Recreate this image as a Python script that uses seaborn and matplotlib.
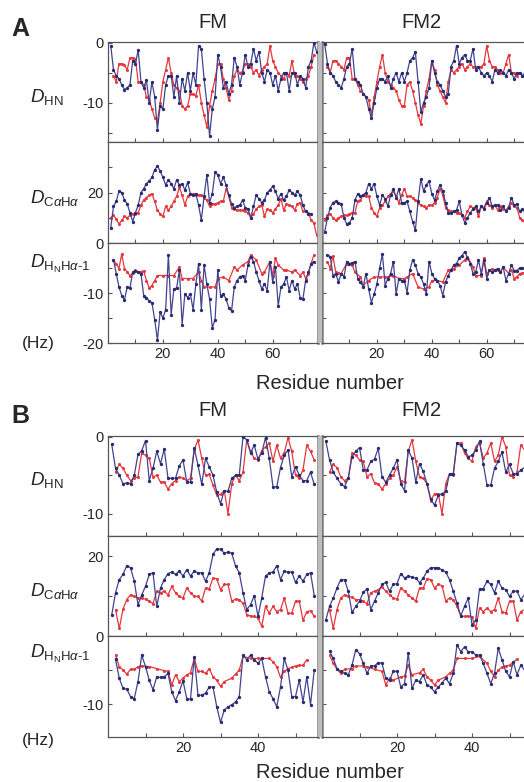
import numpy as np
import pandas as pd
import matplotlib
matplotlib.use("Agg")
import matplotlib.pyplot as plt
from matplotlib.patches import Rectangle
import seaborn as sns

nan = np.nan

# ---------------- Panel A (residues 1-76) ----------------
res_a = list(range(1, 77))

a_hn_fm_blue = [-0.5, -4.5, -5.5, -6, -7, -7.8, -7.5, -7, -3, -3.5,
                -1.2, -6.5, -7.5, -6.2, -10, -6.5, -9, -14.5, -10.5, -11,
                -7, -5.5, -5.5, -9, -5.5, -10, -6, -8, -5, -8,
                -5, -7, -0.5, -1, -6, -10, -15.5, -11, -9, -2,
                -4, -7.5, -6.5, -8.5, -7, -2.5, -4, -7, -5, -2,
                -4, -3.5, -1, -3, -1.5, -5, -6.5, -4.5, -5, -7,
                -5.5, -8, -6, -5, -5, -8, -5, -5, -7, -5.5,
                -6, -7.5, -4, -3, 0, -1.5]
a_hn_fm_red = [nan, -5.5, -6.5, -3.5, -3.5, -3.7, -4.5, -2.5, -2.5, -2.8,
               -6.5, -6.5, -7, -9, -9.5, -11, -12.5, -13, -10, -6.5,
               -4.5, -2.5, -5, -7, -7.5, -8, -10.5, -11, -10.5, -8.5,
               -8.5, -8.8, -7, -10, -12, -14, -10.5, -8, -6, -3.5,
               -3.5, -6, -7.5, -9.5, -8, -5.5, -4.5, -5, -4.8, -3.5,
               -3.5, -4, -5, -4.5, -5.5, -4.5, -4, -3.5, -0.5, -3,
               -4, -5, -5.5, -6, -5, -5.5, -3, -5.5, -5.5, -6,
               -6.5, -6, -5.5, -4, -2, nan]
a_hn_fm2_blue = [-0.3, -3.5, -5, -5.5, -6.5, -7, -7.5, -6, -4, -3.5,
                 -1, -6, -6.5, -7, -8.5, -9, -11, -12.5, -10, -7.5,
                 -6, -6, -6.5, -5.5, -7.5, -6, -5, -6.5, -5, -6.5,
                 -5, -3, -2.5, -1.5, -6.5, -11.5, -10, -9, -7.5, -3,
                 -5, -6.5, -7, -8, -9, -8.5, -4, -3, -0.5, -3.5,
                 -2.5, -2, -3, -3, -1, -4.5, -4, -5, -5.5, -5,
                 -5.5, -6.5, -4.5, -5, -4.5, -5, -5.5, -4.5, -5, -6,
                 -5, -5, -5.5, -5, -5, -5]
a_hn_fm2_red = [nan, -4, -5, -3, -3, -3.5, -4, -4.5, -2.5, -2.5,
                -6, -6, -7, -8, -8.5, -9, -9.5, -12, -9, -6.5,
                -4, -2, -5, -6.5, -7, -7.5, -8, -9.5, -10.5, -10.5,
                -7, -6.5, -8, -10, -12, -13.5, -10.5, -8, -6, -3,
                -4.5, -7, -8, -9, -10, -6.5, -4.5, -5, -4.5, -4,
                -3.5, -4.5, -4, -3.5, -4, -4, -4, -4, -3.5, -0.5,
                -3, -4, -4, -4.5, -5, -5, -3.5, -2, -5, -5,
                -5.5, -5, -5.5, -6, -5.5, nan]

a_ca_fm_blue = [6, 14.5, 16.5, 20.5, 20, 17, 15.5, 12, 8.5, 12,
                15, 20, 21.5, 23.5, 24.5, 26, 29, 30.5, 28.5, 26,
                23, 25, 23.5, 21.5, 25, 23, 23.5, 21, 24, 19.5,
                19, 19.5, 15, 9, 18.5, 27, 16, 19.5, 28, 27,
                23.5, 26, 23, 19, 15.5, 14, 14.5, 15, 17, 14,
                13.5, 10, 14.5, 19, 17.5, 16, 17, 20, 21, 22.5,
                20.5, 17.5, 19.5, 17, 18.5, 21, 20, 19, 20.5, 19,
                15, 12.5, 11.5, 11.5, nan, nan]
a_ca_fm_red = [10, 11, 9.5, 7.5, 9, 10.5, 10, 11, 11.5, 11.5,
               12, 15, 17, 18, 19, 19.5, 16.5, 13, 11.5, 10.5,
               14.5, 13, 14.5, 16.5, 18.5, 22, 19, 15, 18.5, 19.5,
               19.5, 19, 19, 19, 18, 17, 14.5, 15.5, 15.5, 16,
               16.5, 16.5, 21.5, 18.5, 14, 13.5, 13, 13, 13, 12.5,
               12, 10, 11.5, 13.5, 14.5, 15, 10.5, 13.5, 13, 12,
               13.5, 15, 17.5, 13, 15.5, 15, 14.5, 13, 15.5, 16,
               12.5, 12.5, 12, 9, 8, 3]
a_ca_fm2_blue = [4.5, 10, 14, 16, 16.5, 16, 15.5, 10, 7.5, 8,
                 10, 17, 19.5, 18.5, 19, 20, 23.5, 21.5, 23.5, 18.5,
                 15, 19, 17.5, 14.5, 19, 21.5, 18, 21.5, 16, 16,
                 16.5, 12.5, 8.5, 5, 16.5, 25.5, 20.5, 23, 24.5, 19.5,
                 17, 20.5, 23, 20.5, 16, 12, 12, 12.5, 13, 16.5,
                 11, 8, 10, 12, 13.5, 14.5, 12.5, 14.5, 13.5, 16,
                 18, 14.5, 15, 15, 13, 14.5, 12.5, 14, 18, 15,
                 15.5, 12.5, 13.5, 12, nan, nan]
a_ca_fm2_red = [9, 11, 11.5, 10, 9, 10, 10.5, 11, 11, 11.5,
                12, 12, 16.5, 17, 19, 18.5, 18.5, 14, 12, 10.5,
                14, 15, 16.5, 18.5, 19.5, 20.5, 18.5, 16, 19, 21.5,
                18.5, 18.5, 18, 17, 16, 15, 14.5, 14, 15, 15,
                16, 18, 21.5, 19, 14, 13, 12.5, 12.5, 12, 12,
                11, 10, 12.5, 14.5, 14, 14, 10.5, 14.5, 14, 16.5,
                15, 14, 15, 13, 14.5, 13.5, 13, 14.5, 16, 14.5,
                14, 10, 9, 8, nan, nan]

a_hh_fm_blue = [nan, -3.4, -6.1, -8.8, -10.5, -11.4, -8.8, -9, -5.8, -5.6,
                -5.8, -6.1, -10.5, -10.9, -11.6, -11.9, -15.3, -19.4, -13.8, -15,
                -13.3, -2.4, -14.3, -9.2, -9, -5.4, -16.3, -10.2, -10.9, -10.2,
                -13.3, -8.2, -4.1, -13.3, -4.4, -8.2, -11.2, -17, -15.3, -5.4,
                -10.5, -10.2, -11.2, -12.9, -13.6, -8.8, -7.5, -6.8, -6.5, -7.5,
                -4.4, -2.7, -3.7, -5.8, -7.5, -9.2, -8.2, -9.5, -3.7, -7.8,
                -4.8, -12.6, -8.8, -8.2, -6.8, -9.5, -7.5, -9.2, -8.2, -10.9,
                -11.2, -7.5, -5.8, -4.1, -3.7, nan]
a_hh_fm_red = [nan, -3.4, -4.2, -5.1, -2.2, -5.1, -5.8, -6.5, -6, -5.4,
               -5.8, -5.7, -5.6, -7.5, -9, -8.5, -7.5, -6.5, nan, -6.5,
               nan, -6.5, nan, -6.5, nan, -4.8, -7.1, nan, -7.1, nan,
               -7.1, nan, -5.8, -7.5, -8.8, nan, -8.8, nan, -8.8, -7.1,
               nan, -6.8, nan, -7.5, nan, -4.8, -5.4, nan, -4.4, nan,
               -3.7, -2.4, nan, -3.4, nan, -6.1, -5.8, nan, -3.7, -6.5,
               -3, -4.4, nan, -5.4, -5.4, nan, -5.8, -5.4, nan, -6.5,
               -5.8, -7.1, -6.1, -4.1, -2.4, nan]
a_hh_fm2_blue = [nan, -2.4, -2.7, -6.5, -6.1, -7.8, -6.1, -6.8, -3.7, -4.1,
                 -4, -3.7, -7.1, -7.8, -8.8, -6.1, -9.2, -11.9, -10.2, -8.2,
                 -5, -2.2, -8.5, -7.1, -6.1, -3.7, -10.2, -7.1, -7.5, -7.5,
                 -9.9, -5.4, -3.4, -4.4, -6.1, -6.8, -8.2, -10.2, -3.7, -6.1,
                 -7.1, -7.5, -8.5, -10.5, -7.8, -6.5, -5.4, -4.4, -4.1, -3,
                 -2.5, -1.7, -3, -4.1, -6.1, -5.8, -3.4, -6.1, -3.4, -7.1,
                 -5.4, -5.8, -5.4, -5.1, -5.8, -4.8, -7.5, -6.1, -4.4, -5.5,
                 -5.5, -5, -5, -5, -5, nan]
a_hh_fm2_red = [nan, -3.7, -5.1, -2.6, -5.8, -6, -6.1, nan, -4.1, nan,
                -4.4, -5.8, nan, -6.8, -8.5, nan, -7.5, nan, -6.8, nan,
                -6.8, nan, -6.8, -6.8, nan, -6.5, nan, -7.1, nan, -7.1,
                -6.8, nan, -6.1, nan, -8.8, nan, -9.2, nan, -8.8, -7.5,
                nan, -7.5, nan, -7.8, nan, -5.4, nan, -5.1, nan, -4.4,
                nan, -3.4, -2.7, nan, -4.8, -6.5, nan, -6.5, -3, -6.1,
                nan, -5.1, -5.4, nan, -5.8, -4.8, nan, -6.1, -5.4, -7.1,
                -6.8, -6.1, -6, -6, nan, nan]

# ---------------- Panel B (residues 1-55) ----------------
res_b = list(range(1, 56))

b_hn_fm_blue = [-1, -4.1, -5, -6.1, -6, -6.1, -5, -2.3, -1.8, -0.5,
                -5.7, -4.1, -1.9, -3.5, -1.6, -5.4, -5.4, -5.4, -3.8, -3,
                -5.9, -5.9, -1.5, -3.7, -6.2, -2.8, -3.9, -5, -7.2, -8.7,
                -7, -7.1, -5.4, -5, -5, 0, -0.4, -2.1, -1.1, -2.9,
                -2.1, -0.1, -2.8, -6.5, -6.5, -4, -2.4, -1.7, -5.2, -3.9,
                -5, -5.7, -5.7, -4.6, -6.2]
b_hn_fm_red = [nan, -4.6, -3.6, -4.1, -5, -5.7, -5.4, -5.2, -2.1, -2.4,
               -2.8, -5.2, -5, -5.9, -5.9, -6.8, -6.1, -5.7, -5.2, -5.4,
               -5.7, -5.4, -1.7, -0.4, -2.8, -5, -4.9, -6.3, -7.6, -7.5,
               -7, -10, -6.1, -5, -5.7, -4.6, -0.4, -1.9, -2.8, -3,
               -1.8, -1.3, -0.8, -3.2, -1.1, -2.8, -2.1, -0.1, -1.9, -5,
               -5.4, -4.3, -1.1, -1.9, -3]
b_hn_fm2_blue = [-0.5, -3, -4.6, -5.4, -6.1, -6.5, -5.4, -2.6, -1.9, -1.4,
                 -4.3, -4.3, -3.2, -2.9, -1.5, -5.2, -5.9, -5, -4.1, -3,
                 -6.1, -7, -1.7, -2.8, -5.9, -3.5, -4.5, -6.1, -8.1, -8.9,
                 -7.6, -7.4, -7.1, -4.8, -4.8, -0.8, -1.1, -1.7, -2.6, -2.4,
                 -1.7, -0.6, -3.5, -6.3, -6.3, -4.1, -3.2, -2, -4.6, -3.6,
                 -4.8, -4.8, -4.3, -4, -4]
b_hn_fm2_red = [nan, -4.6, -3.6, -4, -5.2, -5.7, -5.4, -2.1, -2.4, -3,
                -3.2, -5.2, -4.8, -6, -6.1, -6.8, -6.1, -5.4, -5, -3.9,
                -5.7, -5.9, -1.9, -0.4, -3.2, -5.2, -5.4, -6.1, -8.3, -7.4,
                -7.4, -10, -6.1, -4.8, -5, -0.8, -0.8, -2.1, -2.8, -3.2,
                -1.3, -0.8, -2.8, -2.1, -0.8, -3.2, -2.4, 0, -1.3, -5,
                -5.2, -4.6, -1.1, -1.7, -2]

b_ca_fm_blue = [5.3, 10.8, 14.1, 15.4, 17.6, 17.1, 13.7, 7.8, 10.3, 12.4,
                15.4, 15.8, 7.4, 12, 14.1, 15.6, 16, 15.4, 16.2, 15,
                16.6, 15, 16.2, 15.8, 15.8, 13.7, 15.8, 20.4, 21.8, 21.7,
                20.7, 21, 20.7, 17.5, 15.8, 10.8, 6.6, 7.8, 10.1, 4.9,
                9.5, 15, 15.8, 16, 17.6, 14.1, 16.2, 16, 16, 13.4,
                15, 13.7, 15.4, 15.8, 10.1]
b_ca_fm_red = [nan, 6.6, 1.9, 6.7, 9.1, 10.3, 9.9, 9.5, 9.5, 9.2,
               8.7, 8.1, 11.2, 10.8, 11.2, 10.3, 12.4, 10.8, 9.9, 9.5,
               12, 10.8, 9.9, 9.9, 8.7, 12, 11.8, 14.5, 14.3, 11.6,
               12.9, 12.9, 8.7, 9.2, 9.1, 8.2, 5.3, 5, 4.9, 4.5,
               2.4, 7.4, 5.7, 7.4, 6.1, 6.6, 9.5, 5.7, 5.7, 8.7,
               8.7, 3.9, 6.1, 6.3, 4.9]
b_ca_fm2_blue = [3.9, 7.4, 9.5, 12, 14.1, 14.1, 11.2, 5.9, 7.4, 8.7,
                 10.9, 11.8, 6.6, 8.7, 10.8, 12.9, 13.4, 11.2, 12.9, 13.1,
                 15.6, 14.5, 15, 14.7, 14.5, 13.3, 14.5, 16.2, 17.1, 17.1,
                 17.1, 16.5, 16, 14.1, 11.2, 8.2, 5, 7.4, 9.5, 2.8,
                 4, 11.8, 11.8, 13.7, 12.9, 10.8, 13.7, 12, 11.6, 9.9,
                 11.2, 11.2, 9.1, 10.3, 10.3]
b_ca_fm2_red = [nan, 6.6, 1.9, 6.6, 9.5, 10.3, 9.9, 9.7, 9.1, 9.1,
                8.7, 8.1, 10.8, 11.2, 11.6, 12.3, 11.2, 10.3, 9.5, 9.2,
                12, 11.2, 10.3, 9.5, 8.7, 12, 12, 14.3, 14.1, 12,
                12.9, 12.6, 8.7, 9.5, 9.1, 7.4, 5, 4.9, 5, 4.7,
                1.9, 7, 6.1, 7, 6.1, 6.6, 9.5, 6.1, 5.7, 8.7,
                8.7, 4, 6.1, 6.6, 6.6]

b_hh_fm_blue = [nan, -3.4, -6.2, -7.7, -7.8, -8.9, -9.2, -6.7, -2.8, -4.5,
                -6.5, -7.9, -6, -6.1, -6, -5.5, -8.2, -9.5, -8.2, -6.6,
                -9.2, -9.3, -3.1, -8.7, -8.7, -8.4, -7.5, -7.5, -10.4, -12.7,
                -10.9, -10.4, -10.1, -9.7, -8.9, -2.8, -3.5, -2.8, -3.5, -4,
                -3.3, -6, -8.2, -9.2, -10.4, -7.5, -3.3, -5, -8.9, -8.9,
                -6.5, -9.7, -6, -10.1, -5]
b_hh_fm_red = [nan, -2.8, -4.5, -5, -5.6, -4.9, -4.9, -4.5, -4.4, nan,
               -4.5, nan, -4.8, nan, -5.1, -5.2, -7.2, -5.7, -6.7, -6.2,
               -5.7, -5.4, -3.3, -5.2, -5.2, -5.5, -4.8, -6, -6.5, -7.4,
               -6.7, nan, -6.2, -5.6, -5, -3, nan, -3.3, nan, -3.3,
               -3.3, nan, -3.3, -3.8, -4.5, -6.1, -5.2, -4.8, -4.6, -4.4,
               -4.3, -4.3, -3.5, nan, nan]
b_hh_fm2_blue = [nan, -2.2, -3.3, -4.8, -5.2, -5.5, -5.7, -4.3, -2, -2.6,
                 -4, -5.5, -4.4, -4.4, -3.9, -4, -6.2, -6.5, -5.2, -5.2,
                 -7.5, -7, -2.5, -7.7, -6.5, -6.7, -5.7, -7.2, -7.5, -8.2,
                 -7.5, -6.9, -6.2, -7, -5.5, -1.3, -2.3, -1.6, -2.3, -2.3,
                 -2.8, -2.8, -4, -5.5, -7, -5.5, -1.8, -3.5, -5.2, -6,
                 -3.8, -5.7, -4.3, -5, -5]
b_hh_fm2_red = [nan, -2.8, -4, -4.9, -5.5, -4.9, nan, -4.8, -4.4, nan,
                -4.4, -4.5, nan, -4.9, nan, -5.2, -7.2, -6.2, -6.5, nan,
                -6, -5.9, -4.3, -5.7, nan, -5.4, -4.9, -6, -6.5, -7.2,
                -6.5, nan, -6, -5.5, -5, -3.3, nan, -3.3, nan, -3.3,
                nan, -3, nan, -4, -5.2, -6, -5, -4.6, -4.4, -4.3,
                nan, -3.4, nan, nan, nan]

col_titles = ["FM", "FM2"]
row_labels = [r"$D_{\mathrm{HN}}$",
              r"$D_{\mathrm{C}\alpha\mathrm{H}\alpha}$",
              r"$D_{\mathrm{H}_{\mathrm{N}}\mathrm{H}\alpha\text{-}1}$"]

# ---------------- style ----------------
sns.set_style("white")
plt.rcParams["font.family"] = ["Liberation Sans", "DejaVu Sans"]
plt.rcParams["mathtext.fontset"] = "custom"
plt.rcParams["mathtext.rm"] = "Liberation Sans"
plt.rcParams["mathtext.it"] = "Liberation Sans:italic"
plt.rcParams["mathtext.bf"] = "Liberation Sans:bold"
plt.rcParams["axes.unicode_minus"] = False

BLUE = "#41448f"
BLUE_MK = "#2a2b6e"
RED = "#e4383d"
FRAME = "#555555"
SEP = "#7a7a7a"

W, H = 524, 782
fig = plt.figure(figsize=(W / 100, H / 100), dpi=100)
fig.patch.set_facecolor("white")


def px_axes(left, top, right, bottom):
    return fig.add_axes([left / W, 1 - bottom / H, (right - left) / W, (bottom - top) / H])


def draw_series(ax, res, vals, color, mcolor, ms, z):
    df = pd.DataFrame({"residue": res, "value": vals}).dropna()
    sns.lineplot(data=df, x="residue", y="value", ax=ax, color=color, lw=0.9,
                 marker="o", markersize=ms, markeredgewidth=0,
                 markerfacecolor=mcolor, estimator=None, sort=True, zorder=z)


def style_axes(ax, col, ylim, ymajor, yminor, xlim, xmajor, xminor, xlabels):
    ax.set_xlim(*xlim)
    ax.set_ylim(*ylim)
    ax.set_xlabel("")
    ax.set_ylabel("")
    ax.set_yticks(ymajor)
    ax.set_yticks(yminor, minor=True)
    ax.set_xticks(xmajor)
    ax.set_xticks(xminor, minor=True)
    if col == 0:
        ax.set_yticklabels([f"{int(t)}" for t in ymajor])
    else:
        ax.set_yticklabels([])
    if xlabels:
        ax.set_xticklabels([f"{int(t)}" for t in xmajor])
    else:
        ax.set_xticklabels([])
    ax.tick_params(which="both", direction="in", length=3, width=0.8,
                   color=FRAME, labelsize=10.5, pad=3,
                   left=True, bottom=True, top=False, right=False)
    for s in ax.spines.values():
        s.set_color(FRAME)
        s.set_linewidth(0.9)
    if col == 0:
        ax.spines["right"].set_color(SEP)
        ax.spines["right"].set_linewidth(1.8)
    else:
        ax.spines["left"].set_color(SEP)
        ax.spines["left"].set_linewidth(1.8)
    ax.set_facecolor("white")


panels = [
    dict(res=res_a, rows=[(42, 142), (142, 243), (243, 343)],
         ylims=[(-16.5, 0.1), (0, 40), (-20, 0)],
         ymaj=[[0, -10], [0, 20], [-10, -20]],
         ymin=[[-5, -15], [10, 30], [-5, -15]],
         xlim=(0, 76.5), xmaj=[20, 40, 60], xmin=[10, 30, 50, 70],
         series=[(a_hn_fm_red, a_hn_fm_blue, a_hn_fm2_red, a_hn_fm2_blue),
                 (a_ca_fm_red, a_ca_fm_blue, a_ca_fm2_red, a_ca_fm2_blue),
                 (a_hh_fm_red, a_hh_fm_blue, a_hh_fm2_red, a_hh_fm2_blue)],
         letter="A", letter_y=29, title_y=22, xlabel_y=383,
         label_ys=[97, 198, 264], hz_y=343),
    dict(res=res_b, rows=[(436, 536), (536, 636), (636, 737)],
         ylims=[(-12.9, 0.1), (0, 25), (-14.85, 0)],
         ymaj=[[0, -10], [0, 20], [-10]],
         ymin=[[-5], [10], [-5]],
         xlim=(0, 56), xmaj=[20, 40], xmin=[10, 30, 50],
         series=[(b_hn_fm_red, b_hn_fm_blue, b_hn_fm2_red, b_hn_fm2_blue),
                 (b_ca_fm_red, b_ca_fm_blue, b_ca_fm2_red, b_ca_fm2_blue),
                 (b_hh_fm_red, b_hh_fm_blue, b_hh_fm2_red, b_hh_fm2_blue)],
         letter="B", letter_y=416, title_y=411, xlabel_y=772,
         label_ys=[480, 591, 654], hz_y=740),
]

cols = [(108, 318), (322, 532)]

for p in panels:
    top_px, bot_px = p["rows"][0][0], p["rows"][-1][1]
    # grey gap between the two columns
    fig.patches.append(Rectangle((318 / W, 1 - bot_px / H), 4 / W, (bot_px - top_px) / H,
                                 transform=fig.transFigure, facecolor="#bdbdbd",
                                 edgecolor="none", zorder=0))
    for r, (t, b) in enumerate(p["rows"]):
        red1, blue1, red2, blue2 = p["series"][r]
        for c, (l, rr) in enumerate(cols):
            ax = px_axes(l, t, rr, b)
            red, blue = (red1, blue1) if c == 0 else (red2, blue2)
            draw_series(ax, p["res"], red, RED, RED, 2.2, 2)
            draw_series(ax, p["res"], blue, BLUE, BLUE_MK, 2.4, 3)
            style_axes(ax, c, p["ylims"][r], p["ymaj"][r], p["ymin"][r],
                       p["xlim"], p["xmaj"], p["xmin"], xlabels=(r == 2))
        fig.text(30 / W, 1 - p["label_ys"][r] / H, row_labels[r],
                 fontsize=13.5, ha="left", va="center")
    fig.text(20 / W, 1 - p["letter_y"] / H, p["letter"], fontsize=18,
             fontweight="bold", ha="center", va="center")
    fig.text(213 / W, 1 - p["title_y"] / H, col_titles[0], fontsize=14.5,
             ha="center", va="center")
    fig.text(421 / W, 1 - p["title_y"] / H, col_titles[1], fontsize=14.5,
             ha="center", va="center")
    fig.text(330 / W, 1 - p["xlabel_y"] / H, "Residue number", fontsize=14.5,
             ha="center", va="center")
    fig.text(22 / W, 1 - p["hz_y"] / H, "(Hz)", fontsize=12.5,
             ha="left", va="center")

fig.savefig("out.png", dpi=100, facecolor="white")
